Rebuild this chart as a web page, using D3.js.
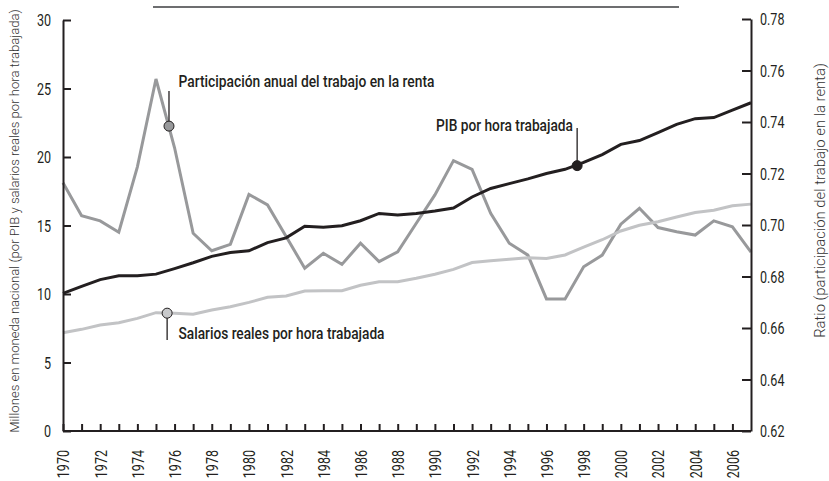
<!DOCTYPE html>
<html>
<head>
<meta charset="utf-8">
<script src="https://cdn.jsdelivr.net/npm/d3@7"></script>
<style>
  html, body { margin: 0; padding: 0; background: #fff; }
  svg { display: block; }
  text { font-family: Roboto, "Liberation Sans", sans-serif; fill: #231f20; }
</style>
</head>
<body>
<svg id="chart" width="829" height="481"></svg>
<script>
// ---- Data ----
const years = d3.range(1970, 2008);
const pibPorHora = [10.05, 10.55, 11.05, 11.33, 11.33, 11.45, 11.85, 12.28, 12.75, 13.03, 13.15, 13.75, 14.1, 14.95,
  14.88, 14.98, 15.35, 15.88, 15.77, 15.88, 16.06, 16.28, 17.08, 17.7, 18.06, 18.4, 18.8, 19.1, 19.6, 20.18,
  20.92, 21.2, 21.78, 22.38, 22.8, 22.88, 23.42, 23.96];
const salariosPorHora = [7.17, 7.42, 7.74, 7.9, 8.22, 8.64, 8.6, 8.52, 8.83, 9.07, 9.39, 9.76, 9.85, 10.22, 10.24,
  10.24, 10.64, 10.9, 10.9, 11.15, 11.44, 11.8, 12.3, 12.43, 12.53, 12.64, 12.6, 12.85, 13.42, 13.96, 14.6,
  15.02, 15.28, 15.62, 15.95, 16.12, 16.44, 16.56];
const participacion = [0.7164, 0.7036, 0.7016, 0.6972, 0.7226, 0.7567, 0.7300, 0.6968, 0.6900, 0.6925, 0.7119,
  0.7078, 0.6955, 0.6832, 0.6890, 0.6847, 0.6929, 0.6858, 0.6896, 0.7007, 0.7117, 0.7250, 0.7216, 0.7045,
  0.6929, 0.6883, 0.6713, 0.6713, 0.6838, 0.6883, 0.7003, 0.7065, 0.6990, 0.6974, 0.6961, 0.7016, 0.6993, 0.6895];
const leftTicks = [0, 5, 10, 15, 20, 25, 30];
const rightTicks = [0.62, 0.64, 0.66, 0.68, 0.70, 0.72, 0.74, 0.76, 0.78];
const yearTicks = d3.range(1970, 2007);
const yearLabels = d3.range(1970, 2007, 2);
const leftTitle = "Millones en moneda nacional  (por PIB y salarios reales por hora trabajada)";
const rightTitle = "Ratio (participación del trabajo en la renta)";
const annParticipacion = { label: "Participación anual del trabajo en la renta", year: 1975.7, value: 0.7384 };
const annPib = { label: "PIB por hora trabajada", year: 1997.65, value: 19.37 };
const annSalarios = { label: "Salarios reales por hora trabajada", year: 1975.6, value: 8.6 };

// ---- Scales ----
const svg = d3.select("#chart");
const x = d3.scaleLinear().domain([1970, 2007]).range([63, 751]);
const yL = d3.scaleLinear().domain([0, 30]).range([431, 20]);
const yR = d3.scaleLinear().domain([0.62, 0.78]).range([431, 19]);

const dark = "#231f20";
const midGray = "#98999b";
const lightGray = "#c2c3c5";

// condense text horizontally (keeps real text)
function condense(sel, factor) {
  sel.each(function () {
    const w = this.getComputedTextLength();
    if (w > 0) d3.select(this).attr("textLength", w * factor).attr("lengthAdjust", "spacingAndGlyphs");
  });
}

// top rule
svg.append("line").attr("x1", 153).attr("x2", 679).attr("y1", 7).attr("y2", 7)
  .attr("stroke", "#6d6e70").attr("stroke-width", 2);

// ---- Lines ----
const lineL = d3.line().x((d, i) => x(years[i])).y(d => yL(d));
const lineR = d3.line().x((d, i) => x(years[i])).y(d => yR(d));

svg.append("path").datum(participacion).attr("d", lineR).attr("fill", "none")
  .attr("stroke", midGray).attr("stroke-width", 3);
svg.append("path").datum(salariosPorHora).attr("d", lineL).attr("fill", "none")
  .attr("stroke", lightGray).attr("stroke-width", 3);
svg.append("path").datum(pibPorHora).attr("d", lineL).attr("fill", "none")
  .attr("stroke", dark).attr("stroke-width", 3);

// ---- Axes ----
const styleAxis = g => {
  g.select(".domain").attr("stroke", dark).attr("stroke-width", 2);
  g.selectAll(".tick line").attr("stroke", dark).attr("stroke-width", 2);
  g.selectAll(".tick text").attr("fill", dark).style("font-size", "16.5px")
    .style("font-family", 'Roboto, "Liberation Sans", sans-serif');
};

const axL = svg.append("g").attr("transform", "translate(63,0)")
  .call(d3.axisLeft(yL).tickValues(leftTicks).tickFormat(d3.format("d"))
    .tickSizeInner(-8).tickSizeOuter(0).tickPadding(12));
styleAxis(axL);
axL.selectAll(".tick text").attr("dy", "0.36em");
condense(axL.selectAll(".tick text"), 0.76);

const axR = svg.append("g").attr("transform", "translate(751,0)")
  .call(d3.axisRight(yR).tickValues(rightTicks).tickFormat(d3.format(".2f"))
    .tickSizeInner(-9).tickSizeOuter(0).tickPadding(9));
styleAxis(axR);
axR.selectAll(".tick text").attr("dy", "0.36em");
condense(axR.selectAll(".tick text"), 0.76);

const axB = svg.append("g").attr("transform", "translate(0,431)")
  .call(d3.axisBottom(x).tickValues(yearTicks)
    .tickFormat(d => yearLabels.includes(d) ? String(d) : "")
    .tickSizeInner(-7).tickSizeOuter(0).tickPadding(0));
styleAxis(axB);
axB.selectAll(".tick text")
  .attr("transform", "rotate(-90)")
  .attr("x", -19).attr("y", 0).attr("dy", "0.36em")
  .attr("text-anchor", "end");
condense(axB.selectAll(".tick text"), 0.76);
axB.select(".domain").attr("d", `M${x.range()[0]},0H${x.range()[1]}`);

// ---- Axis titles (condensed via transform scale) ----
function vTitle(txt, cx, cy, len, size) {
  const t = svg.append("text")
    .attr("text-anchor", "middle")
    .style("font-size", size + "px").style("font-weight", 300).style("fill", "#333")
    .text(txt);
  const w = t.node().getComputedTextLength();
  t.attr("transform", `translate(${cx},${cy}) rotate(-90) scale(${len / w},1)`);
}
vTitle(leftTitle, 19, 221, 424, 13.5);
vTitle(rightTitle, 825, 200.5, 275, 14);

// ---- Annotations ----
function leader(px, y1, y2) {
  svg.append("line").attr("x1", px).attr("x2", px).attr("y1", y1).attr("y2", y2)
    .attr("stroke", dark).attr("stroke-width", 1.3);
}
function dot(px, py, fill) {
  svg.append("circle").attr("cx", px).attr("cy", py).attr("r", 5)
    .attr("fill", fill).attr("stroke", dark).attr("stroke-width", 1);
}
function label(txt, px, py, anchor, len) {
  svg.append("text").attr("x", px).attr("y", py).attr("text-anchor", anchor)
    .attr("textLength", len).attr("lengthAdjust", "spacingAndGlyphs")
    .style("font-size", "16.5px").style("font-weight", 500).text(txt);
}

{
  const px = x(annParticipacion.year), py = yR(annParticipacion.value);
  leader(px, 91, py);
  dot(px, py, midGray);
  label(annParticipacion.label, 178.5, 87, "start", 256);
}
{
  const px = x(annPib.year), py = yL(annPib.value);
  leader(px, 128, py);
  dot(px, py, dark);
  label(annPib.label, 573, 131, "end", 137);
}
{
  const px = x(annSalarios.year), py = yL(annSalarios.value);
  leader(px, py, 340);
  dot(px, py, "#c8c9cb");
  label(annSalarios.label, 178.5, 339, "start", 206);
}
</script>
</body>
</html>
